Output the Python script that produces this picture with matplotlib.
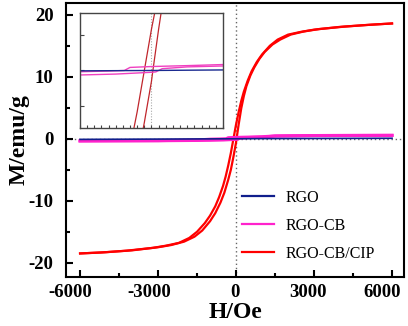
"""M-H hysteresis loops of RGO, RGO-CB and RGO-CB/CIP with a low-field inset."""

import matplotlib

matplotlib.use("Agg")
import matplotlib.pyplot as plt
from matplotlib.ticker import MultipleLocator
from matplotlib.transforms import ScaledTranslation

plt.rcParams["font.family"] = ["Liberation Serif", "DejaVu Serif"]
plt.rcParams["axes.unicode_minus"] = False

# RGO-CB/CIP, descending branch (H from +6000 to -6000)
cip_down_h = [6000, 5000, 4000, 3000, 2500, 2000, 1600, 1300, 1000, 800, 600, 450,
              300, 200, 100, 0, -100, -200, -300, -400, -500, -650, -800, -1000,
              -1200, -1500, -1800, -2200, -2700, -3200, -4200, -5200, -6000]
cip_down_m = [18.6, 18.35, 18.05, 17.6, 17.25, 16.8, 16.0, 15.0, 13.6, 12.4, 10.9, 9.4,
              7.6, 6.1, 4.3, 2.3, 0.0, -2.3, -4.3, -6.1, -7.6, -9.4, -10.9, -12.4,
              -13.6, -15.0, -16.0, -16.8, -17.25, -17.6, -18.05, -18.35, -18.5]
# RGO-CB/CIP, ascending branch (H from -6000 to +6000)
cip_up_h = [-6000, -5000, -4000, -3000, -2500, -2000, -1600, -1300, -1000, -800, -600,
            -450, -300, -200, -100, 0, 20, 100, 200, 300, 400, 550, 700, 900, 1100,
            1400, 1700, 2100, 2600, 3200, 4200, 5200, 6000]
cip_up_m = [-18.5, -18.3, -18.0, -17.5, -17.15, -16.6, -15.8, -14.8, -13.3, -12.0, -10.3,
            -8.7, -6.6, -5.0, -2.9, -0.6, 0.0, 2.3, 4.9, 6.9, 8.5, 10.2, 11.5, 12.9, 14.0,
            15.2, 16.0, 16.8, 17.3, 17.7, 18.1, 18.4, 18.6]

# RGO-CB
cb_down_h = [6000, 3000, 1500, 1000, 500, 0, -300, -380, -600, -1000, -1500, -3000, -6000]
cb_down_m = [0.55, 0.52, 0.45, 0.33, 0.27, 0.22, 0.17, 0.0, -0.03, -0.07, -0.2, -0.3, -0.35]
cb_up_h = [-6000, -3000, -1500, -1000, -500, 0, 60, 150, 500, 1000, 1500, 3000, 6000]
cb_up_m = [-0.35, -0.32, -0.27, -0.25, -0.2, -0.1, -0.08, 0.1, 0.2, 0.25, 0.45, 0.52, 0.55]

# RGO
rgo_h = [-6000, -1000, 0, 1000, 6000]
rgo_m = [-0.1, -0.02, 0.0, 0.03, 0.08]

x_ticks = [-6000, -3000, 0, 3000, 6000]
labels = ["RGO", "RGO-CB", "RGO-CB/CIP"]
colors = ["#101e8c", "#ff22cc", "#ff0000"]

fig = plt.figure(figsize=(4.08, 3.26), dpi=100)
ax = fig.add_axes([0.1618, 0.1503, 0.8284, 0.8405])

ax.axvline(0, color="#666666", lw=1.0, ls=(0, (1, 2)), zorder=1)
ax.axhline(0, color="#666666", lw=1.0, ls=(0, (1, 2)), zorder=1)

ax.plot(cip_down_h, cip_down_m, color=colors[2], lw=1.6, zorder=2)
ax.plot(cip_up_h, cip_up_m, color=colors[2], lw=1.6, zorder=2)
ax.plot(cb_down_h, cb_down_m, color=colors[1], lw=2.2, zorder=3)
ax.plot(cb_up_h, cb_up_m, color=colors[1], lw=2.2, zorder=3)
ax.plot(rgo_h, rgo_m, color=colors[0], lw=1.2, zorder=4)

ax.set_xlim(-6540, 6460)
ax.set_ylim(-22.3, 21.9)
ax.set_xticks(x_ticks)
ax.xaxis.set_minor_locator(MultipleLocator(1500))
ax.yaxis.set_major_locator(MultipleLocator(10))
ax.yaxis.set_minor_locator(MultipleLocator(5))
ax.tick_params(which="both", direction="in", top=False, right=False, width=1.5,
               labelsize=13.5)
ax.tick_params(which="major", length=5)
ax.tick_params(which="minor", length=3)
ax.tick_params(axis="x", which="major", pad=5)
ax.tick_params(axis="y", which="major", pad=9)
for lab in ax.get_xticklabels() + ax.get_yticklabels():
    lab.set_fontweight("bold")
# the original labels sit a little left of their ticks
for lab, dx in zip(ax.get_xticklabels(), [-10, -9, -1, -6, -10]):
    lab.set_transform(lab.get_transform() + ScaledTranslation(dx / 100, 0, fig.dpi_scale_trans))
for spine in ax.spines.values():
    spine.set_linewidth(1.5)

ax.set_xlabel("H/Oe", fontsize=17, fontweight="bold", labelpad=1)
ax.set_ylabel("M/emu/g", fontsize=17, fontweight="bold", labelpad=-1)

handles = [plt.Line2D([], [], color=c, lw=1.6) for c in colors]
fig.legend(handles, labels, loc="upper left", bbox_to_anchor=(242 / 408, 1 - 190 / 326),
           frameon=False, fontsize=11.5, handlelength=2.0, handletextpad=0.7,
           labelspacing=0.75, borderpad=0, borderaxespad=0)

# low-field inset
ins = fig.add_axes([0.196, 0.6074, 0.3505, 0.3528])
ins.axvline(0, color="#aaaaaa", lw=0.8, ls=(0, (1, 1.5)), zorder=1)
ins.plot(cip_down_h, cip_down_m, color="#c0262c", lw=0.9)
ins.plot(cip_up_h, cip_up_m, color="#c0262c", lw=0.9)
ins.plot(cb_down_h, cb_down_m, color="#f040c0", lw=1.0)
ins.plot(cb_up_h, cb_up_m, color="#f040c0", lw=1.0)
ins.plot(rgo_h, rgo_m, color="#1a2a90", lw=1.0)
ins.set_xlim(-1000, 1000)
ins.set_ylim(-3.2, 3.2)
ins.set_xticks([])
ins.xaxis.set_minor_locator(MultipleLocator(100))
ins.yaxis.set_major_locator(MultipleLocator(2))
ins.tick_params(which="both", direction="in", labelbottom=False, labelleft=False,
                color="#444444", width=0.8)
ins.tick_params(which="major", length=3)
ins.tick_params(which="minor", length=2)
for spine in ins.spines.values():
    spine.set_color("#444444")
    spine.set_linewidth(1.0)

fig.savefig("out.png", dpi=100)
